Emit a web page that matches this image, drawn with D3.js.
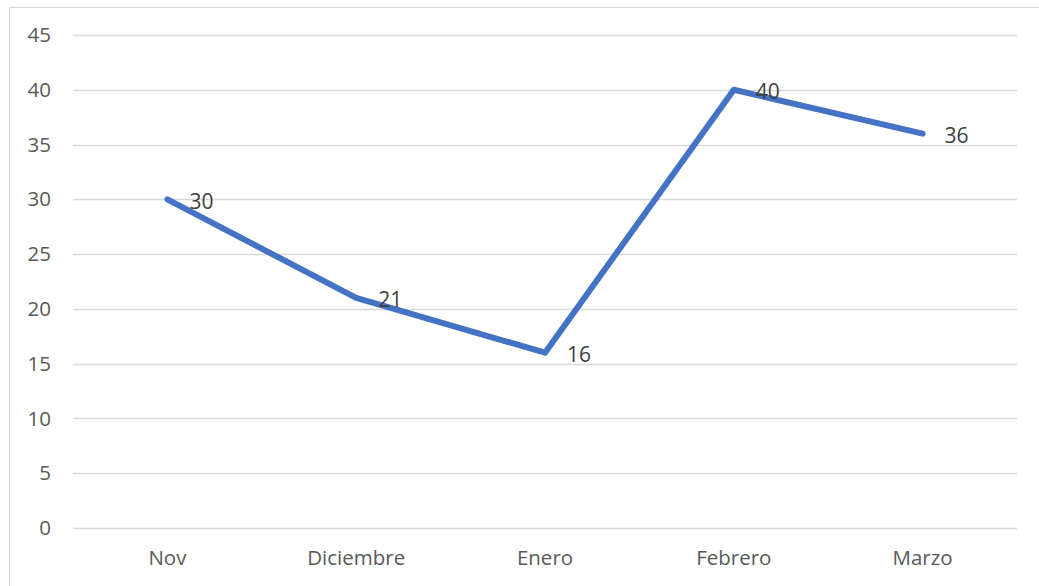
<!DOCTYPE html>
<head>
  <meta charset="utf-8">
  <style>
    body { margin: 0; background: #ffffff; }
    svg { font-family: "Open Sans", sans-serif; }
  </style>
</head>
<body>
  <script src="https://d3js.org/d3.v7.min.js"></script>
  <script>
    // chart data
    var months = ["Nov", "Diciembre", "Enero", "Febrero", "Marzo"];
    var values = [30, 21, 16, 40, 36];
    var yTicks = [0, 5, 10, 15, 20, 25, 30, 35, 40, 45];

    var W = 1039, H = 586;
    var margin = {top: 35, right: 22, bottom: 58, left: 73};
    var width = W - margin.left - margin.right;
    var height = H - margin.top - margin.bottom;

    var root = d3.select("body").append("svg")
        .attr("width", W)
        .attr("height", H);

    // outer chart frame
    root.append("rect")
        .attr("x", 9.5)
        .attr("y", 7.5)
        .attr("width", W + 10)
        .attr("height", H + 10)
        .attr("fill", "none")
        .attr("stroke", "#d9d9d9")
        .attr("stroke-width", 1);

    var svg = root.append("g")
        .attr("transform", "translate(" + margin.left + "," + margin.top + ")");

    var x = d3.scaleBand()
        .domain(months)
        .range([0, width]);

    var y = d3.scaleLinear()
        .domain([0, 45])
        .range([height, 0]);

    // gridlines
    svg.append("g")
        .selectAll("line")
        .data(yTicks)
        .enter().append("line")
        .attr("x1", 0)
        .attr("x2", width)
        .attr("y1", d => Math.round(y(d)) + 0.5)
        .attr("y2", d => Math.round(y(d)) + 0.5)
        .attr("stroke", "#d9d9d9")
        .attr("stroke-width", 1.4);

    // y axis labels
    var yAxis = svg.append("g")
        .call(d3.axisLeft(y).tickValues(yTicks).tickSize(0).tickPadding(22));
    yAxis.select(".domain").remove();
    yAxis.selectAll("text")
        .attr("fill", "#595959")
        .style("font-family", "'Open Sans', sans-serif")
        .style("font-size", "20.5px");

    // x axis labels
    var xAxis = svg.append("g")
        .attr("transform", "translate(0," + height + ")")
        .call(d3.axisBottom(x).tickSize(0).tickPadding(22));
    xAxis.select(".domain").remove();
    xAxis.selectAll("text")
        .attr("fill", "#595959")
        .style("font-family", "'Open Sans', sans-serif")
        .style("font-size", "20.5px");

    var data = months.map((m, i) => ({month: m, value: values[i]}));

    var line = d3.line()
        .x(d => x(d.month) + x.bandwidth() / 2)
        .y(d => y(d.value));

    svg.append("path")
        .datum(data)
        .attr("d", line)
        .attr("fill", "none")
        .attr("stroke", "#4472c4")
        .attr("stroke-width", 6)
        .attr("stroke-linecap", "round")
        .attr("stroke-linejoin", "round");

    // data labels
    svg.selectAll(".label")
        .data(data)
        .enter().append("text")
        .attr("class", "label")
        .attr("x", d => x(d.month) + x.bandwidth() / 2 + 22)
        .attr("y", d => y(d.value) + 2)
        .attr("dy", "0.35em")
        .attr("fill", "#404040")
        .style("font-size", "21px")
        .text(d => d.value);
  </script>
</body>
</html>
